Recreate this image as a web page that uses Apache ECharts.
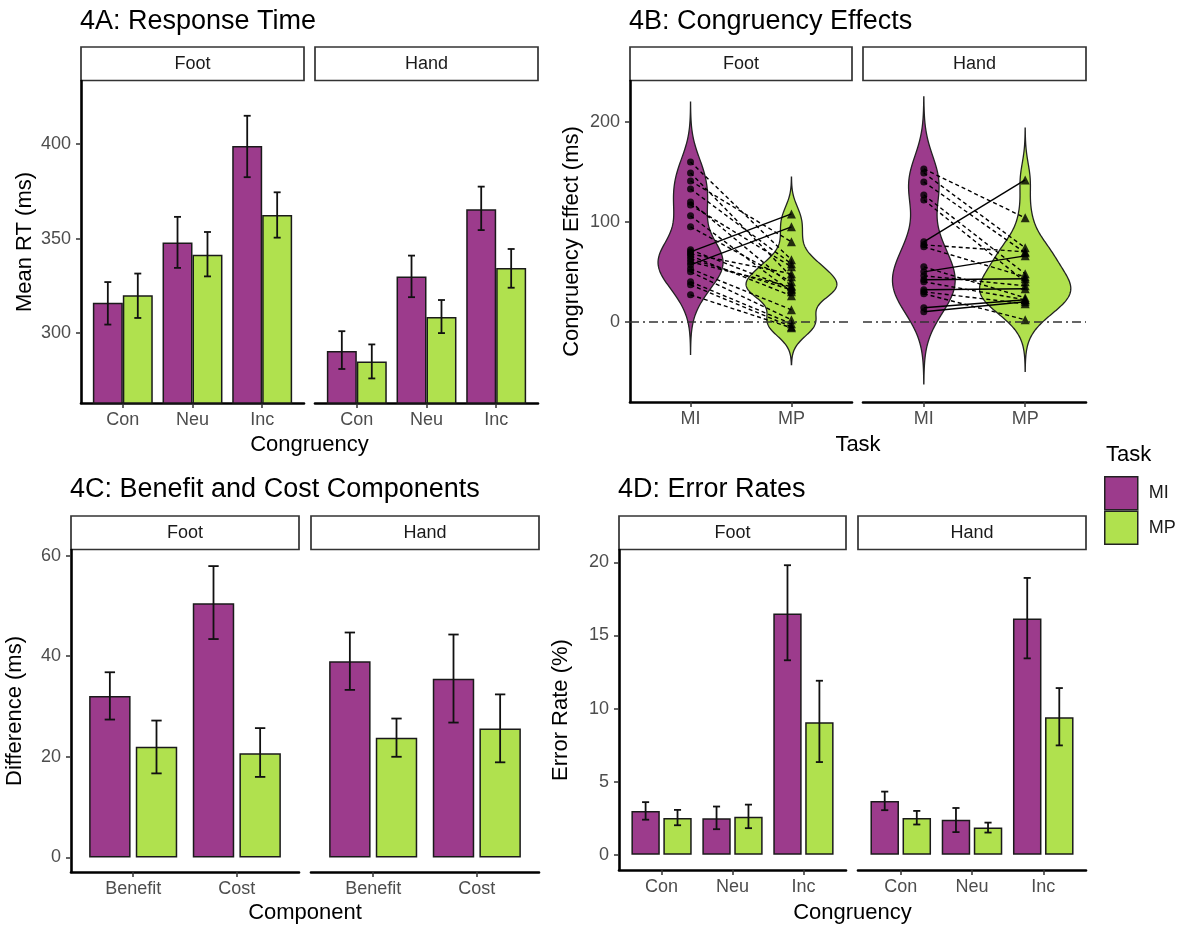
<!DOCTYPE html>
<html><head><meta charset="utf-8">
<script src="https://cdn.jsdelivr.net/npm/echarts@6/dist/echarts.min.js"></script>
<style>html,body{margin:0;padding:0;background:#fff}#c{width:1181px;height:926px}</style>
</head><body><div id="c"></div>
<script>
// ================= DATA =================
const facets = ['Foot', 'Hand'];
const taskNames = ['MI', 'MP'];

// 4A: Response time (ms)
const rtCats = ['Con', 'Neu', 'Inc'];
const rtTicks = [300, 350, 400];
const rtFootMI = [316, 348, 399];
const rtFootMP = [320, 341.5, 362.5];
const rtHandMI = [290.5, 330, 365.5];
const rtHandMP = [285, 308.5, 334.5];
const rtFootMILo = [304.5, 334.5, 382.5], rtFootMIHi = [327, 361.5, 415];
const rtFootMPLo = [308, 330, 350.5],     rtFootMPHi = [331.5, 353.5, 374.5];
const rtHandMILo = [281, 319, 354.5],     rtHandMIHi = [301, 341, 377.5];
const rtHandMPLo = [276, 300, 324],       rtHandMPHi = [294, 317.5, 344.5];

// 4B: Congruency effects per participant (ms)
const ceCats = ['MI', 'MP'];
const ceTicks = [0, 100, 200];
const ceFootMI = [160, 149, 141, 133, 120, 117, 106, 95, 72, 70, 68, 66, 63, 60, 57, 53, 50, 40, 37, 27];
const ceFootMP = [62, 45, 80, 58, 36, 55, 30, 40, 33, 108, 48, 26, 32, 35, 95, 12, 2, -2, -5, -6];
const ceHandMI = [153, 149, 140, 127, 122, 80, 77, 75, 55, 50, 46, 42, 40, 32, 30, 28, 14, 10];
const ceHandMP = [104, 74, 69, 48, 40, 142, 70, 45, 24, 66, 36, 43, 22, 33, 18, 2, 22, 20];

// 4C: Benefit and cost (ms)
const bcCats = ['Benefit', 'Cost'];
const bcTicks = [0, 20, 40, 60];
const bcFootMI = [32.1, 50.5];
const bcFootMP = [22.0, 20.7];
const bcHandMI = [39.0, 35.5];
const bcHandMP = [23.8, 25.6];
const bcFootMILo = [27.4, 43.4], bcFootMIHi = [36.8, 57.9];
const bcFootMPLo = [16.7, 16.0], bcFootMPHi = [27.2, 25.7];
const bcHandMILo = [33.3, 26.8], bcHandMIHi = [44.7, 44.3];
const bcHandMPLo = [20.0, 18.9], bcHandMPHi = [27.6, 32.4];

// 4D: Error rates (%)
const erCats = ['Con', 'Neu', 'Inc'];
const erTicks = [0, 5, 10, 15, 20];
const erFootMI = [3.0, 2.5, 16.5];
const erFootMP = [2.52, 2.6, 9.07];
const erHandMI = [3.68, 2.39, 16.16];
const erHandMP = [2.52, 1.86, 9.41];
const erFootMILo = [2.4, 1.75, 13.3],  erFootMIHi = [3.6, 3.3, 19.8];
const erFootMPLo = [2.02, 1.82, 6.34], erFootMPHi = [3.07, 3.43, 11.9];
const erHandMILo = [3.05, 1.55, 13.43], erHandMIHi = [4.32, 3.2, 18.93];
const erHandMPLo = [2.07, 1.52, 7.48], erHandMPHi = [3.0, 2.2, 11.4];

// ================= STYLE / LAYOUT =================
const PURPLE = '#9C3B8C', GREEN = '#B0E14E';
const FONT = '"Liberation Sans", Arial, Helvetica, sans-serif';
const grids = [
  {left: 81,  top: 81,  width: 223, height: 322},
  {left: 315, top: 81,  width: 223, height: 322},
  {left: 630, top: 81,  width: 222, height: 321},
  {left: 863, top: 81,  width: 223, height: 321},
  {left: 71,  top: 550, width: 228, height: 322},
  {left: 311, top: 550, width: 228, height: 322},
  {left: 619, top: 550, width: 227, height: 320},
  {left: 858, top: 550, width: 228, height: 320}
];
const panels = [
  {cats: rtCats, yMin: 263,   yMax: 433.4, ticks: rtTicks, title: '4A: Response Time',              xt: 'Congruency', yt: 'Mean RT (ms)'},
  {cats: ceCats, yMin: -80.3, yMax: 241,   ticks: ceTicks, title: '4B: Congruency Effects',         xt: 'Task',       yt: 'Congruency Effect (ms)'},
  {cats: bcCats, yMin: -2.9,  yMax: 61.1,  ticks: bcTicks, title: '4C: Benefit and Cost Components', xt: 'Component',  yt: 'Difference (ms)'},
  {cats: erCats, yMin: -1.04, yMax: 20.84, ticks: erTicks, title: '4D: Error Rates',                xt: 'Congruency', yt: 'Error Rate (%)'}
];

// ================= HELPERS =================
const CAP = 0.05;
function errRender(params, api) {
  const cx = api.value(0) + api.value(3);
  const lo = api.value(1), hi = api.value(2);
  const t = api.coord([cx, hi]), b = api.coord([cx, lo]);
  const tl = api.coord([cx - CAP, hi]), tr = api.coord([cx + CAP, hi]);
  const bl = api.coord([cx - CAP, lo]), br = api.coord([cx + CAP, lo]);
  const st = {stroke: '#111', lineWidth: 1.8};
  return {type: 'group', children: [
    {type: 'line', shape: {x1: t[0], y1: t[1], x2: b[0], y2: b[1]}, style: st},
    {type: 'line', shape: {x1: tl[0], y1: tl[1], x2: tr[0], y2: tr[1]}, style: st},
    {type: 'line', shape: {x1: bl[0], y1: bl[1], x2: br[0], y2: br[1]}, style: st}
  ]};
}
function barPair(gi, cats, mi, mp, miLo, miHi, mpLo, mpHi, bw, gap, off) {
  const out = [];
  [[mi, PURPLE, 'MI'], [mp, GREEN, 'MP']].forEach(([vals, col, name]) => {
    out.push({type: 'bar', name, xAxisIndex: gi, yAxisIndex: gi, barWidth: bw, barGap: gap, silent: true,
      data: vals.map((v, i) => [i, v]),
      itemStyle: {color: col, borderColor: '#1a1a1a', borderWidth: 1.5}});
  });
  const err = [];
  cats.forEach((c, i) => { err.push([i, miLo[i], miHi[i], -off]); err.push([i, mpLo[i], mpHi[i], off]); });
  out.push({type: 'custom', xAxisIndex: gi, yAxisIndex: gi, silent: true, z: 3, data: err, renderItem: errRender});
  return out;
}
function quantile(s, p) { const h = (s.length - 1) * p, lo = Math.floor(h); const hi = Math.min(lo + 1, s.length - 1); return s[lo] + (h - lo) * (s[hi] - s[lo]); }
function mean(x) { return x.reduce((a, b) => a + b, 0) / x.length; }
function bwNrd0(x) {
  const n = x.length, m = mean(x);
  const sd = Math.sqrt(x.reduce((a, b) => a + (b - m) * (b - m), 0) / (n - 1));
  const s = [...x].sort((a, b) => a - b);
  const iqr = quantile(s, 0.75) - quantile(s, 0.25);
  let lo = Math.min(sd, iqr / 1.34); if (!(lo > 0)) lo = sd || 1;
  return 0.9 * lo * Math.pow(n, -0.2);
}
function kde(x) {
  const bw = bwNrd0(x), a = Math.min(...x) - 3 * bw, b = Math.max(...x) + 3 * bw, N = 256;
  const ys = [], ds = [];
  for (let k = 0; k < N; k++) {
    const y = a + (b - a) * k / (N - 1); let s = 0;
    for (const v of x) { const u = (y - v) / bw; s += Math.exp(-0.5 * u * u); }
    ys.push(y); ds.push(s / (x.length * bw * Math.sqrt(2 * Math.PI)));
  }
  return {ys, ds};
}
function violinPanel(gi, mi, mp) {
  const groups = [kde(mi), kde(mp)];
  const maxD = Math.max(...groups.map(g => Math.max(...g.ds)));
  const cols = [PURPLE, GREEN];
  return [
    {type: 'custom', xAxisIndex: gi, yAxisIndex: gi, silent: true, z: 2,
      data: [[0, mean(mi)], [1, mean(mp)]],
      renderItem: (params, api) => {
        const k = params.dataIndex, g = groups[k], x0 = api.value(0);
        const r = g.ys.map((y, j) => api.coord([x0 + 0.45 * g.ds[j] / maxD, y]));
        const l = g.ys.map((y, j) => api.coord([x0 - 0.45 * g.ds[j] / maxD, y])).reverse();
        return {type: 'polygon', shape: {points: r.concat(l)}, style: {fill: cols[k], stroke: '#222', lineWidth: 1.3}};
      }},
    {type: 'custom', xAxisIndex: gi, yAxisIndex: gi, silent: true, z: 3,
      data: mi.map((v, i) => [v, mp[i]]),
      renderItem: (params, api) => {
        const a = api.coord([0, api.value(0)]), b = api.coord([1, api.value(1)]);
        const dashed = api.value(1) < api.value(0);
        return {type: 'line', shape: {x1: a[0], y1: a[1], x2: b[0], y2: b[1]},
          style: {stroke: '#000', lineWidth: 1.4, lineDash: dashed ? [4, 3] : null}};
      }},
    {type: 'scatter', xAxisIndex: gi, yAxisIndex: gi, silent: true, z: 4, symbol: 'circle', symbolSize: 7,
      itemStyle: {color: '#000'}, data: mi.map(v => [0, v]),
      markLine: {silent: true, symbol: ['none', 'none'], label: {show: false}, animation: false,
        lineStyle: {color: '#333', width: 1.5, type: [9, 4, 2, 4]}, data: [{yAxis: 0}]}},
    {type: 'scatter', xAxisIndex: gi, yAxisIndex: gi, silent: true, z: 4, symbol: 'triangle', symbolSize: 9,
      itemStyle: {color: '#000'}, data: mp.map(v => [1, v])}
  ];
}

// ================= AXES =================
const xAxis = [], yAxis = [];
grids.forEach((g, gi) => {
  const p = panels[Math.floor(gi / 2)], isLeft = gi % 2 === 0;
  const idx = p.cats.map((c, i) => i);
  xAxis.push({gridIndex: gi, type: 'value', min: -0.6, max: p.cats.length - 0.4, splitLine: {show: false},
    axisLine: {show: true, onZero: false, lineStyle: {color: '#000', width: 2.6}},
    axisTick: {show: true, customValues: idx, length: 5, lineStyle: {color: '#333', width: 1.5}},
    axisLabel: {show: true, customValues: idx, formatter: v => p.cats[Math.round(v)] || '',
      color: '#4D4D4D', fontSize: 18, fontFamily: FONT, margin: 8}});
  yAxis.push({gridIndex: gi, type: 'value', min: p.yMin, max: p.yMax, splitLine: {show: false},
    axisLine: {show: isLeft, onZero: false, lineStyle: {color: '#000', width: 2.6}},
    axisTick: {show: isLeft, customValues: p.ticks, length: 5, lineStyle: {color: '#333', width: 1.5}},
    axisLabel: {show: isLeft, customValues: p.ticks, color: '#4D4D4D', fontSize: 18, fontFamily: FONT, margin: 10}});
});

// ================= SERIES =================
const series = [].concat(
  barPair(0, rtCats, rtFootMI, rtFootMP, rtFootMILo, rtFootMIHi, rtFootMPLo, rtFootMPHi, '43%', '0%', 0.215),
  barPair(1, rtCats, rtHandMI, rtHandMP, rtHandMILo, rtHandMIHi, rtHandMPLo, rtHandMPHi, '43%', '0%', 0.215),
  violinPanel(2, ceFootMI, ceFootMP),
  violinPanel(3, ceHandMI, ceHandMP),
  barPair(4, bcCats, bcFootMI, bcFootMP, bcFootMILo, bcFootMIHi, bcFootMPLo, bcFootMPHi, '40%', '12.5%', 0.225),
  barPair(5, bcCats, bcHandMI, bcHandMP, bcHandMILo, bcHandMIHi, bcHandMPLo, bcHandMPHi, '40%', '12.5%', 0.225),
  barPair(6, erCats, erFootMI, erFootMP, erFootMILo, erFootMIHi, erFootMPLo, erFootMPHi, '40%', '12.5%', 0.225),
  barPair(7, erCats, erHandMI, erHandMP, erHandMILo, erHandMIHi, erHandMPLo, erHandMPHi, '40%', '12.5%', 0.225)
);

// ================= GRAPHIC (titles, strips, axis titles) =================
const graphic = [];
grids.forEach((g, gi) => {
  graphic.push({type: 'rect', silent: true, shape: {x: g.left, y: g.top - 34, width: g.width, height: 33.5},
    style: {fill: '#fff', stroke: '#333', lineWidth: 1.7}});
  graphic.push({type: 'text', silent: true, x: g.left + g.width / 2, y: g.top - 17,
    style: {text: facets[gi % 2], font: '18px ' + FONT, fill: '#1a1a1a', textAlign: 'center', textVerticalAlign: 'middle', align: 'center', verticalAlign: 'middle'}});
});
panels.forEach((p, pi) => {
  const gL = grids[pi * 2], gR = grids[pi * 2 + 1];
  const xMid = (gL.left + gR.left + gR.width) / 2;
  const yMid = gL.top + gL.height / 2;
  const row2 = pi >= 2;
  graphic.push({type: 'text', silent: true, x: gL.left - 1, y: row2 ? 490 : 22,
    style: {text: p.title, font: '27px ' + FONT, fill: '#000', textAlign: 'left', textVerticalAlign: 'middle', align: 'left', verticalAlign: 'middle'}});
  graphic.push({type: 'text', silent: true, x: xMid, y: row2 ? 913 : 445,
    style: {text: p.xt, font: '22px ' + FONT, fill: '#000', textAlign: 'center', textVerticalAlign: 'middle', align: 'center', verticalAlign: 'middle'}});
  graphic.push({type: 'text', silent: true, x: gL.left - (pi % 2 === 0 ? 56 : 58), y: yMid, rotation: Math.PI / 2,
    style: {text: p.yt, font: '22px ' + FONT, fill: '#000', textAlign: 'center', textVerticalAlign: 'middle', align: 'center', verticalAlign: 'middle'}});
});
graphic.push({type: 'text', silent: true, x: 1106, y: 455,
  style: {text: 'Task', font: '22px ' + FONT, fill: '#000', textAlign: 'left', textVerticalAlign: 'middle', align: 'left', verticalAlign: 'middle'}});

// ================= CHART =================
const chart = echarts.init(document.getElementById('c'), null, {renderer: 'canvas'});
chart.setOption({
  animation: false,
  backgroundColor: '#fff',
  grid: grids.map(g => Object.assign({containLabel: false}, g)),
  xAxis, yAxis, series, graphic,
  legend: {data: taskNames, orient: 'vertical', left: 1104, top: 476, padding: 0, itemWidth: 33, itemHeight: 33, itemGap: 0,
    icon: 'rect', selectedMode: false,
    itemStyle: {borderColor: '#222', borderWidth: 1.5},
    textStyle: {fontSize: 18, color: '#1a1a1a', fontFamily: FONT, padding: [0, 0, 0, 6]}}
});
</script></body></html>
